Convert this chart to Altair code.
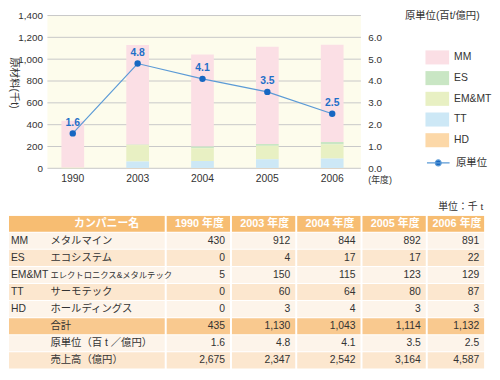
import altair as alt
import pandas as pd

# ---------------- data ----------------
YEARS = ["1990", "2003", "2004", "2005", "2006"]
COMPANY_CODES = ["MM", "ES", "EM&MT", "TT", "HD"]
COMPANY_NAMES = ["メタルマイン", "エコシステム", "エレクトロニクス&メタルテック", "サーモテック", "ホールディングス"]
MM = [430, 912, 844, 892, 891]
ES = [0, 4, 17, 17, 22]
EMMT = [5, 150, 115, 123, 129]
TT = [0, 60, 64, 80, 87]
HD = [0, 3, 4, 3, 3]
TOTAL = [435, 1130, 1043, 1114, 1132]
INTENSITY = [1.6, 4.8, 4.1, 3.5, 2.5]
SALES = [2675, 2347, 2542, 3164, 4587]
LEFT_TICKS = [0, 200, 400, 600, 800, 1000, 1200, 1400]
RIGHT_TICKS = [0, 1, 2, 3, 4, 5, 6]
RIGHT_MAX = 7
SUMMARY_LABELS = ["合計", "原単位（百 t ／億円）", "売上高（億円）"]
HEADER_NAME = "カンパニー名"
YEAR_SUFFIX = " 年度"
UNIT_NOTE = "単位：千 t"
LEFT_TITLE = "原材料(千t)"
RIGHT_TITLE = "原単位(百t/億円)"
X_TITLE = "(年度)"
LINE_LABEL = "原単位"

# ---------------- style ----------------
FONT = "Liberation Sans, Noto Sans CJK JP"
TEXT = "#333333"
BAR_COLORS = ["#fbdfe5", "#c9e6c4", "#e8f0c3", "#cde8f6", "#fcd8a8"]
LINE_COLOR = "#5b9ad6"
POINT_COLOR = "#1767c2"
LABEL_COLOR = "#1f6fc8"
PLOT_BG = "#fdfcec"
GRID = "#c8c8c8"
TABLE_KINDS = ["hdr", "light", "peach", "total"]
TABLE_COLORS = ["#f7bd72", "#fdf4ea", "#fce7cf", "#f9c98f"]

W = 484
TOP_H = 155
PLOT_L, PLOT_R = 39, 357

RECT_PATH = "M-1.6,-0.95H1.6V0.95H-1.6Z"
LINE_PATH = "M-1.53,0H1.53M0.4,0A0.4,0.4,0,1,1,-0.4,0A0.4,0.4,0,1,1,0.4,0Z"

# ---------------- top chart ----------------
series = [MM, ES, EMMT, TT, HD]
bar_rows = []
for ci, (code, vals) in enumerate(zip(COMPANY_CODES, series)):
    for yr, v in zip(YEARS, vals):
        bar_rows.append({"year": yr, "company": code, "value": v,
                         "stack": len(COMPANY_CODES) - 1 - ci})
bars_df = pd.DataFrame(bar_rows)
line_df = pd.DataFrame({"year": YEARS, "ratio": INTENSITY, "series": LINE_LABEL})
grid_df = pd.DataFrame({"tick": LEFT_TICKS})
bg_df = pd.DataFrame({"lo": [LEFT_TICKS[0]], "hi": [LEFT_TICKS[-1]]})

x_scale = alt.Scale(domain=YEARS, range=[PLOT_L, PLOT_R], paddingInner=0.65,
                    paddingOuter=0.2416, align=0.4465)
yl_scale = alt.Scale(domain=[LEFT_TICKS[0], LEFT_TICKS[-1]], nice=False)
yr_scale = alt.Scale(domain=[0, RIGHT_MAX], nice=False)

x_axis = alt.Axis(title=X_TITLE, labelAngle=0, ticks=False, domain=False, grid=False,
                  labelPadding=5, labelFontSize=10.5, labelColor=TEXT,
                  titleX=376, titleY=11, titleAngle=0, titleAlign="center",
                  titleBaseline="middle", titleFontSize=9,
                  titleFontWeight="normal", titleColor=TEXT)
yl_axis = alt.Axis(orient="left", values=LEFT_TICKS, format=",.0f", offset=-PLOT_L, ticks=False,
                   domain=False, grid=False, labelPadding=5, labelFontSize=10,
                   labelColor=TEXT, title=LEFT_TITLE, titleAngle=90,
                   titleX=-34, titleY=68, titleAlign="center",
                   titleBaseline="middle", titleFontSize=10.5,
                   titleFontWeight="normal", titleColor=TEXT)
yr_axis = alt.Axis(orient="right", values=RIGHT_TICKS, format=".1f",
                   offset=PLOT_R - W, ticks=False, domain=False, grid=False,
                   labelPadding=7, labelFontSize=10, labelColor=TEXT,
                   title=RIGHT_TITLE, titleAngle=0, titleX=82, titleY=0,
                   titleAlign="center", titleBaseline="middle",
                   titleFontSize=10.5, titleFontWeight="normal", titleColor=TEXT)

X_ENC = alt.X("year:N", scale=x_scale, sort=YEARS, axis=x_axis)

bg = alt.Chart(bg_df).mark_rect(color=PLOT_BG).encode(
    x=alt.value(PLOT_L), x2=alt.value(PLOT_R),
    y=alt.Y("lo:Q", scale=yl_scale, axis=yl_axis), y2="hi:Q")

grid = alt.Chart(grid_df).mark_rule(color=GRID, strokeWidth=1).encode(
    x=alt.value(PLOT_L), x2=alt.value(PLOT_R),
    y=alt.Y("tick:Q", scale=yl_scale, axis=yl_axis))

bars = alt.Chart(bars_df).mark_bar().encode(
    x=X_ENC,
    y=alt.Y("value:Q", stack="zero", scale=yl_scale, axis=yl_axis),
    color=alt.Color("company:N", scale=alt.Scale(domain=COMPANY_CODES, range=BAR_COLORS),
                    legend=alt.Legend(orient="none", legendX=427, legendY=35, title=None,
                                      symbolType=RECT_PATH, symbolSize=225,
                                      symbolStrokeWidth=0, labelOffset=9.5,
                                      rowPadding=6, padding=0, labelFontSize=10.5,
                                      labelColor=TEXT)),
    order=alt.Order("stack:Q", sort="ascending"),
)

left = alt.layer(bg, grid, bars)

line = alt.Chart(line_df).mark_line(strokeWidth=1.2).encode(
    x=X_ENC,
    y=alt.Y("ratio:Q", scale=yr_scale, axis=yr_axis),
    color=alt.Color("series:N", scale=alt.Scale(domain=[LINE_LABEL], range=[LINE_COLOR]),
                    legend=alt.Legend(orient="none", legendX=427, legendY=141, title=None,
                                      symbolType=LINE_PATH, symbolSize=225,
                                      symbolFillColor=POINT_COLOR,
                                      symbolStrokeColor=LINE_COLOR, symbolStrokeWidth=1.2,
                                      labelOffset=9.5, padding=0, labelFontSize=10.5,
                                      labelColor=TEXT)),
)

points = alt.Chart(line_df).mark_point(filled=True, size=42, opacity=1, color=POINT_COLOR).encode(
    x=X_ENC,
    y=alt.Y("ratio:Q", scale=yr_scale, axis=yr_axis))

labels = alt.Chart(line_df).mark_text(dy=-11, fontWeight="bold", fontSize=10.5,
                                      color=LABEL_COLOR).encode(
    x=X_ENC,
    y=alt.Y("ratio:Q", scale=yr_scale, axis=yr_axis),
    text=alt.Text("ratio:Q", format=".1f"))

right = alt.layer(line, points, labels)

top = alt.layer(left, right).resolve_scale(y="independent", color="independent").properties(
    width=W, height=TOP_H)

# ---------------- table ----------------
COL_W = 66.2
NAME_W = 160
U_MIN = -NAME_W / COL_W
U_MAX = (W - NAME_W) / COL_W
TABLE_H = 156


def px_to_u(px):
    return U_MIN + px / COL_W


col_edges = [(U_MIN, 0.0)] + [(float(i), min(float(i + 1), U_MAX)) for i in range(len(YEARS))]

row_kinds = ["hdr", "light", "peach", "light", "peach", "light", "total", "light", "peach"]
cells = []
for ri, kind in enumerate(row_kinds):
    for (a, b) in col_edges:
        cells.append({"x0": a, "x1": b, "y0": ri, "y1": ri + 1, "kind": kind})
cells_df = pd.DataFrame(cells)

hdr_text = [{"x": px_to_u(99), "yc": 0.5, "t": HEADER_NAME}]
for i, yr in enumerate(YEARS):
    a, b = col_edges[i + 1]
    hdr_text.append({"x": (a + b) / 2, "yc": 0.5, "t": yr + YEAR_SUFFIX})
hdr_df = pd.DataFrame(hdr_text)

NAME_PX = 42
code_rows = []
name_rows = []
for ci, (code, name) in enumerate(zip(COMPANY_CODES, COMPANY_NAMES)):
    ri = ci + 1
    code_rows.append({"x": px_to_u(2), "yc": ri + 0.5, "t": code})
    name_rows.append({"x": px_to_u(NAME_PX), "yc": ri + 0.5, "t": name,
                      "fs": min(10.5, (NAME_W - NAME_PX - 4) / (len(name) - 1.5))})
for si, lab in enumerate(SUMMARY_LABELS):
    ri = len(COMPANY_CODES) + 1 + si
    name_rows.append({"x": px_to_u(NAME_PX), "yc": ri + 0.5, "t": lab, "fs": 10.5})
codes_df = pd.DataFrame(code_rows)
names_df = pd.DataFrame(name_rows)

value_rows = []
all_rows = series + [TOTAL, INTENSITY, SALES]
for k, vals in enumerate(all_rows):
    ri = k + 1
    for i, v in enumerate(vals):
        txt = f"{v:.1f}" if isinstance(v, float) else f"{v:,}"
        value_rows.append({"x": col_edges[i + 1][1], "yc": ri + 0.5, "t": txt})
vals_df = pd.DataFrame(value_rows)

tx_scale = alt.Scale(domain=[U_MIN, U_MAX], nice=False, zero=False)
ty_scale = alt.Scale(domain=[0, len(row_kinds)], nice=False, zero=False, reverse=True)

cells_ch = alt.Chart(cells_df).mark_rect(x2Offset=-2, y2Offset=-1, clip=True).encode(
    x=alt.X("x0:Q", scale=tx_scale, axis=None), x2="x1:Q",
    y=alt.Y("y0:Q", scale=ty_scale, axis=None), y2="y1:Q",
    fill=alt.Fill("kind:N", scale=alt.Scale(domain=TABLE_KINDS, range=TABLE_COLORS), legend=None))

hdr_ch = alt.Chart(hdr_df).mark_text(color="white", fontWeight="bold", fontSize=11,
                                     align="center", baseline="middle", dy=-0.5).encode(
    x=alt.X("x:Q", scale=tx_scale, axis=None),
    y=alt.Y("yc:Q", scale=ty_scale, axis=None), text="t:N")

codes_ch = alt.Chart(codes_df).mark_text(color=TEXT, align="left", baseline="middle",
                                         fontSize=10.5, dy=-0.5).encode(
    x=alt.X("x:Q", scale=tx_scale, axis=None),
    y=alt.Y("yc:Q", scale=ty_scale, axis=None), text="t:N")

names_ch = alt.Chart(names_df).mark_text(color=TEXT, align="left", baseline="middle",
                                         dy=-0.5).encode(
    x=alt.X("x:Q", scale=tx_scale, axis=None),
    y=alt.Y("yc:Q", scale=ty_scale, axis=None), text="t:N",
    size=alt.Size("fs:Q", scale=None, legend=None))

vals_ch = alt.Chart(vals_df).mark_text(color=TEXT, align="right", baseline="middle",
                                       fontSize=10.5, dx=-7, dy=-0.5).encode(
    x=alt.X("x:Q", scale=tx_scale, axis=None),
    y=alt.Y("yc:Q", scale=ty_scale, axis=None), text="t:N")

table = alt.layer(cells_ch, hdr_ch, codes_ch, names_ch, vals_ch).properties(
    width=W, height=TABLE_H,
    title=alt.TitleParams(UNIT_NOTE, anchor="end", fontSize=10, fontWeight="normal",
                          color=TEXT, offset=4, dx=-3))

chart = alt.vconcat(top, table, spacing=18).properties(padding=0).configure(
    font=FONT).configure_view(stroke=None)

chart.save("out.html", embed_options={"renderer": "svg", "actions": False})
